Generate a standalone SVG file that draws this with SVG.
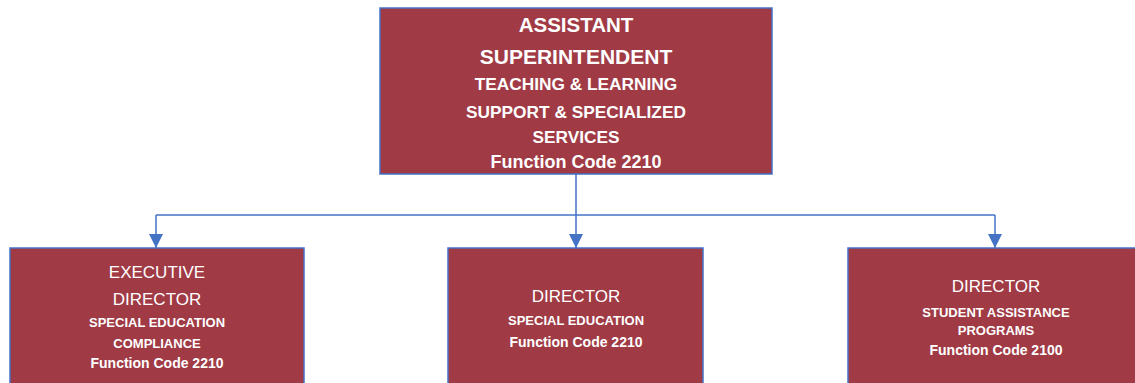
<svg xmlns="http://www.w3.org/2000/svg" width="1135" height="383" viewBox="0 0 1135 383">
  <style>
    .box { fill: #A03A45; stroke: #4472C4; stroke-width: 1.5; }
    .t { font-family: "Liberation Sans", Arial, sans-serif; fill: #FFFFFF; text-anchor: middle; }
    .b { font-weight: bold; }
    .conn { fill: none; stroke: #4472C4; stroke-width: 1.5; }
  </style>
  <defs>
    <marker id="arrow" markerUnits="userSpaceOnUse" markerWidth="14" markerHeight="14" viewBox="0 0 14 14" refX="14" refY="7" orient="auto">
      <path d="M0,0 L14,7 L0,14 Z" fill="#4472C4"/>
    </marker>
  </defs>

  <g id="connectors">
    <path class="conn" d="M576,174 V215"/>
    <path class="conn" d="M156,215 H995"/>
    <path class="conn" d="M156,215 V248" marker-end="url(#arrow)"/>
    <path class="conn" d="M576,215 V248" marker-end="url(#arrow)"/>
    <path class="conn" d="M995,215 V248" marker-end="url(#arrow)"/>
  </g>

  <g id="node-assistant-superintendent">
    <rect class="box" x="380" y="8" width="392" height="166"/>
    <text class="t b" x="576" y="32" font-size="20.5">ASSISTANT</text>
    <text class="t b" x="576" y="64" font-size="21">SUPERINTENDENT</text>
    <text class="t b" x="576" y="90" font-size="17.3">TEACHING &amp; LEARNING</text>
    <text class="t b" x="576" y="118" font-size="17.3">SUPPORT &amp; SPECIALIZED</text>
    <text class="t b" x="576" y="143" font-size="17.3">SERVICES</text>
    <text class="t b" x="576" y="168" font-size="18">Function Code 2210</text>
  </g>

  <g id="node-executive-director">
    <rect class="box" x="10" y="248" width="294" height="160"/>
    <text class="t" x="157" y="278" font-size="17">EXECUTIVE</text>
    <text class="t" x="157" y="305" font-size="17">DIRECTOR</text>
    <text class="t b" x="157" y="327" font-size="13">SPECIAL EDUCATION</text>
    <text class="t b" x="157" y="348" font-size="13">COMPLIANCE</text>
    <text class="t b" x="157" y="368" font-size="14">Function Code 2210</text>
  </g>

  <g id="node-director-special-education">
    <rect class="box" x="448" y="248" width="255" height="160"/>
    <text class="t" x="576" y="302" font-size="17">DIRECTOR</text>
    <text class="t b" x="576" y="325" font-size="13">SPECIAL EDUCATION</text>
    <text class="t b" x="576" y="347" font-size="14">Function Code 2210</text>
  </g>

  <g id="node-director-student-assistance">
    <rect class="box" x="848" y="248" width="296" height="160"/>
    <text class="t" x="996" y="292" font-size="17">DIRECTOR</text>
    <text class="t b" x="996" y="317" font-size="13">STUDENT ASSISTANCE</text>
    <text class="t b" x="996" y="335" font-size="13">PROGRAMS</text>
    <text class="t b" x="996" y="355" font-size="14">Function Code 2100</text>
  </g>
</svg>
